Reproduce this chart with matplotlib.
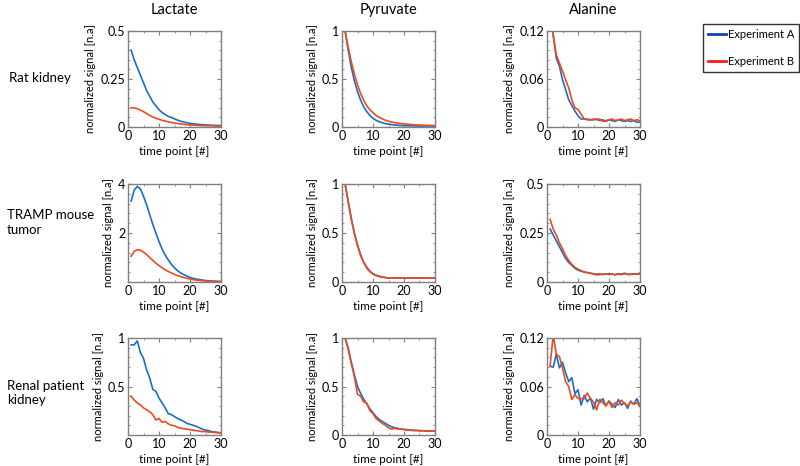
import numpy as np
import matplotlib
matplotlib.use("Agg")
import matplotlib.pyplot as plt
from matplotlib.ticker import AutoMinorLocator

plt.rcParams['font.family'] = ['Lato', 'DejaVu Sans']

t = np.arange(1, 31)

metabolites = ["Lactate", "Pyruvate", "Alanine"]
samples = ["Rat kidney", "TRAMP mouse\ntumor", "Renal patient\nkidney"]

# rat kidney
rat_lac_a = [0.40, 0.35, 0.31, 0.27, 0.23, 0.19, 0.16, 0.13, 0.11, 0.09, 0.075, 0.065, 0.055, 0.05, 0.042,
             0.036, 0.03, 0.026, 0.022, 0.019, 0.017, 0.015, 0.013, 0.012, 0.011, 0.01, 0.009, 0.009, 0.008, 0.008]
rat_lac_b = [0.10, 0.10, 0.095, 0.088, 0.08, 0.07, 0.06, 0.052, 0.046, 0.04, 0.035, 0.031, 0.027, 0.024, 0.021,
             0.018, 0.016, 0.014, 0.012, 0.011, 0.01, 0.009, 0.008, 0.007, 0.007, 0.006, 0.006, 0.005, 0.005, 0.005]
rat_pyr_a = [1.0, 0.8, 0.62, 0.48, 0.37, 0.28, 0.21, 0.16, 0.12, 0.09, 0.07, 0.055, 0.045, 0.035, 0.03,
             0.025, 0.021, 0.018, 0.016, 0.014, 0.013, 0.012, 0.011, 0.011, 0.01, 0.01, 0.01, 0.01, 0.01, 0.01]
rat_pyr_b = [1.0, 0.83, 0.68, 0.55, 0.44, 0.35, 0.28, 0.22, 0.18, 0.15, 0.12, 0.10, 0.085, 0.07, 0.06,
             0.052, 0.046, 0.04, 0.036, 0.032, 0.029, 0.026, 0.024, 0.022, 0.02, 0.019, 0.018, 0.017, 0.016, 0.015]
rat_ala_a = [0.16, 0.115, 0.086, 0.076, 0.059, 0.047, 0.034, 0.027, 0.02, 0.014, 0.01, 0.01, 0.009, 0.009, 0.009,
             0.01, 0.008, 0.009, 0.007, 0.009, 0.008, 0.007, 0.009, 0.008, 0.007, 0.008, 0.007, 0.008, 0.006, 0.006]
rat_ala_b = [0.16, 0.115, 0.09, 0.08, 0.07, 0.059, 0.049, 0.034, 0.024, 0.022, 0.016, 0.01, 0.01, 0.009, 0.01,
             0.009, 0.01, 0.007, 0.008, 0.009, 0.01, 0.008, 0.009, 0.01, 0.008, 0.009, 0.01, 0.008, 0.009, 0.008]

# TRAMP mouse tumor
tr_lac_a = [3.3, 3.75, 3.9, 3.8, 3.5, 3.15, 2.75, 2.35, 2.0, 1.65, 1.35, 1.1, 0.9, 0.72, 0.58,
            0.46, 0.37, 0.3, 0.24, 0.19, 0.15, 0.12, 0.1, 0.08, 0.06, 0.05, 0.04, 0.03, 0.025, 0.02]
tr_lac_b = [1.05, 1.25, 1.32, 1.3, 1.22, 1.12, 1.0, 0.88, 0.77, 0.67, 0.58, 0.5, 0.43, 0.37, 0.31,
            0.26, 0.22, 0.18, 0.15, 0.12, 0.1, 0.08, 0.065, 0.05, 0.04, 0.035, 0.03, 0.025, 0.02, 0.015]
tr_pyr_a = [1.0, 0.82, 0.65, 0.5, 0.38, 0.28, 0.2, 0.15, 0.11, 0.085, 0.07, 0.06, 0.05, 0.045, 0.04,
            0.042, 0.04, 0.043, 0.04, 0.038, 0.041, 0.04, 0.039, 0.042, 0.04, 0.041, 0.039, 0.04, 0.041, 0.04]
tr_pyr_b = [1.0, 0.82, 0.64, 0.49, 0.37, 0.27, 0.2, 0.14, 0.105, 0.08, 0.065, 0.055, 0.05, 0.045, 0.042,
            0.04, 0.038, 0.04, 0.042, 0.04, 0.038, 0.04, 0.041, 0.039, 0.04, 0.042, 0.04, 0.038, 0.04, 0.04]
tr_ala_a = [0.27, 0.24, 0.21, 0.18, 0.15, 0.12, 0.1, 0.085, 0.07, 0.06, 0.055, 0.05, 0.048, 0.045, 0.042,
            0.04, 0.042, 0.038, 0.04, 0.043, 0.04, 0.038, 0.042, 0.04, 0.045, 0.038, 0.04, 0.042, 0.04, 0.04]
tr_ala_b = [0.32, 0.27, 0.24, 0.2, 0.17, 0.135, 0.11, 0.09, 0.075, 0.065, 0.058, 0.052, 0.048, 0.045, 0.04,
            0.036, 0.038, 0.04, 0.042, 0.038, 0.04, 0.036, 0.04, 0.038, 0.042, 0.04, 0.038, 0.04, 0.042, 0.04]

# renal patient kidney
rp_lac_a = [0.93, 0.93, 0.97, 0.85, 0.79, 0.67, 0.59, 0.47, 0.45, 0.38, 0.33, 0.28, 0.22, 0.21, 0.19,
            0.17, 0.155, 0.14, 0.12, 0.11, 0.1, 0.09, 0.075, 0.06, 0.05, 0.045, 0.035, 0.03, 0.025, 0.02]
rp_lac_b = [0.40, 0.36, 0.33, 0.31, 0.28, 0.26, 0.24, 0.21, 0.155, 0.17, 0.13, 0.14, 0.115, 0.10, 0.095,
            0.08, 0.07, 0.065, 0.06, 0.055, 0.05, 0.045, 0.04, 0.035, 0.035, 0.03, 0.03, 0.025, 0.025, 0.025]
rp_pyr_a = [1.0, 0.9, 0.75, 0.62, 0.5, 0.43, 0.37, 0.32, 0.27, 0.23, 0.19, 0.16, 0.14, 0.12, 0.1,
            0.085, 0.075, 0.068, 0.062, 0.058, 0.055, 0.05, 0.048, 0.046, 0.045, 0.044, 0.042, 0.041, 0.04, 0.04]
rp_pyr_b = [1.0, 0.88, 0.74, 0.6, 0.42, 0.4, 0.34, 0.33, 0.25, 0.22, 0.17, 0.145, 0.12, 0.1, 0.075,
            0.06, 0.07, 0.06, 0.065, 0.055, 0.05, 0.052, 0.045, 0.05, 0.042, 0.045, 0.04, 0.043, 0.04, 0.04]
rp_ala_a = [0.085, 0.084, 0.10, 0.083, 0.09, 0.077, 0.066, 0.071, 0.051, 0.056, 0.037, 0.049, 0.041, 0.046, 0.032,
            0.044, 0.04, 0.045, 0.036, 0.042, 0.038, 0.034, 0.044, 0.037, 0.04, 0.033, 0.042, 0.038, 0.045, 0.036]
rp_ala_b = [0.085, 0.124, 0.10, 0.097, 0.083, 0.066, 0.06, 0.044, 0.05, 0.045, 0.045, 0.045, 0.052, 0.045, 0.041,
            0.031, 0.044, 0.04, 0.036, 0.042, 0.034, 0.04, 0.037, 0.043, 0.039, 0.036, 0.041, 0.038, 0.04, 0.035]

data = [[(rat_lac_a, rat_lac_b), (rat_pyr_a, rat_pyr_b), (rat_ala_a, rat_ala_b)],
        [(tr_lac_a, tr_lac_b), (tr_pyr_a, tr_pyr_b), (tr_ala_a, tr_ala_b)],
        [(rp_lac_a, rp_lac_b), (rp_pyr_a, rp_pyr_b), (rp_ala_a, rp_ala_b)]]

ylims = [[0.5, 1, 0.12], [4, 1, 0.5], [1, 1, 0.12]]
yticks = [[[0, 0.25, 0.5], [0, 0.5, 1], [0, 0.06, 0.12]],
          [[2, 4], [0, 0.5, 1], [0, 0.25, 0.5]],
          [[0.5, 1], [0, 0.5, 1], [0, 0.06, 0.12]]]

col_a = "#1a6fc4"
col_b = "#ee4a1f"

fig = plt.figure(figsize=(8, 4.66), dpi=100)

lefts = [128, 342, 547]
rows = [(31, 127), (184, 282), (338, 435)]
W, H = 800, 466

for i in range(3):
    top, bot = rows[i]
    for j in range(3):
        ax = fig.add_axes([lefts[j] / W, 1 - bot / H, 93 / W, (bot - top) / H])
        a, b = data[i][j]
        ax.plot(t, a, color=col_a, lw=1.2)
        ax.plot(t, b, color=col_b, lw=1.2)
        ax.set_xlim(0, 30)
        ax.set_ylim(0, ylims[i][j])
        ax.set_xticks([0, 10, 20, 30])
        ax.set_yticks(yticks[i][j])
        ax.set_yticklabels([('%g' % v) for v in yticks[i][j]])
        ax.xaxis.set_minor_locator(AutoMinorLocator(2))
        ax.yaxis.set_minor_locator(AutoMinorLocator(5))
        ax.tick_params(which='both', direction='in', top=True, right=True,
                       labelsize=9, colors='#808080', labelcolor='black', pad=2)
        ax.tick_params(which='major', length=3)
        ax.tick_params(which='minor', length=1.5)
        for s in ax.spines.values():
            s.set_color('#808080')
            s.set_linewidth(1.0)
        ax.set_xlabel("time point [#]", fontsize=8.5, labelpad=3)
        ax.set_ylabel("normalized signal [n.a]", fontsize=8, labelpad=3)
        if i == 0:
            ax.set_title(metabolites[j], fontsize=10.5, pad=12)

fig.text(40 / W, 1 - 78 / H, samples[0], fontsize=9.5, ha='center', va='center')
fig.text(7 / W, 1 - 222 / H, samples[1], fontsize=9.5, ha='left', va='center', linespacing=1.3)
fig.text(7 / W, 1 - 393 / H, samples[2], fontsize=9.5, ha='left', va='center', linespacing=1.3)

leg_a = plt.Line2D([], [], color="#1040c0", lw=2)
leg_b = plt.Line2D([], [], color="#ff1a1a", lw=2)
fig.legend([leg_a, leg_b], ["Experiment A", "Experiment B"], loc='upper right',
           bbox_to_anchor=(799 / W, 1 - 24 / H), fontsize=8, frameon=True,
           fancybox=False, edgecolor='black', handlelength=1.6, handletextpad=0.15,
           labelspacing=1.4, borderpad=0.45, borderaxespad=0)

fig.savefig("out.png", dpi=100)
